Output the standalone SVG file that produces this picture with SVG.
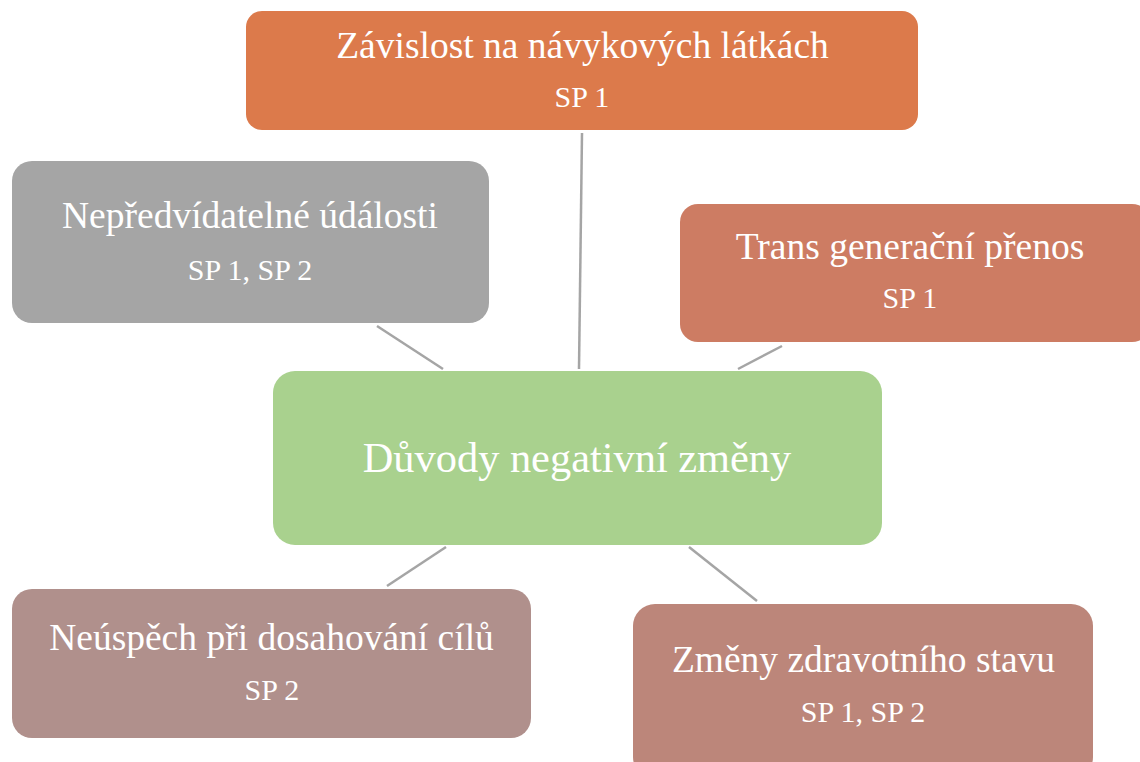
<svg xmlns="http://www.w3.org/2000/svg" width="1140" height="762" viewBox="0 0 1140 762">
<style>
.t{font-family:"Liberation Serif","Times New Roman",serif;fill:#fff;text-anchor:middle}
.h{font-size:37.5px}
.s{font-size:30px}
.c{font-size:42.4px}
.ln{stroke:#a5a5a5;stroke-width:2.5;fill:none}
</style>
<rect width="1140" height="762" fill="#fff"/>
<g id="connectors">
<line class="ln" x1="582" y1="133" x2="579" y2="369"/>
<line class="ln" x1="377" y1="326" x2="443" y2="369"/>
<line class="ln" x1="782" y1="346" x2="738" y2="369"/>
<line class="ln" x1="446" y1="547" x2="387" y2="586"/>
<line class="ln" x1="689" y1="547" x2="757" y2="601"/>
</g>
<g id="n-top">
<rect x="246" y="11" width="672" height="119" rx="16" fill="#dc7a4b"/>
<text class="t h" x="582.5" y="58">Závislost na návykových látkách</text>
<text class="t s" x="582" y="107">SP 1</text>
</g>
<g id="n-gray">
<rect x="12" y="161" width="477" height="162" rx="20" fill="#a5a5a5"/>
<text class="t h" x="250" y="228">Nepředvídatelné údálosti</text>
<text class="t s" x="250" y="280">SP 1, SP 2</text>
</g>
<g id="n-trans">
<rect x="680" y="204" width="470" height="138" rx="18" fill="#cd7c63"/>
<text class="t h" x="910" y="259">Trans generační přenos</text>
<text class="t s" x="910" y="308">SP 1</text>
</g>
<g id="n-center">
<rect x="273" y="371" width="609" height="174" rx="22" fill="#a9d18e"/>
<text class="t c" x="577" y="472">Důvody negativní změny</text>
</g>
<g id="n-bl">
<rect x="12" y="589" width="519" height="149" rx="20" fill="#b0908c"/>
<text class="t h" x="271.5" y="650">Neúspěch při dosahování cílů</text>
<text class="t s" x="272" y="700">SP 2</text>
</g>
<g id="n-br">
<rect x="633" y="604" width="460" height="175" rx="22" fill="#bc867a"/>
<text class="t h" x="863.5" y="672">Změny zdravotního stavu</text>
<text class="t s" x="863" y="722">SP 1, SP 2</text>
</g>
</svg>
